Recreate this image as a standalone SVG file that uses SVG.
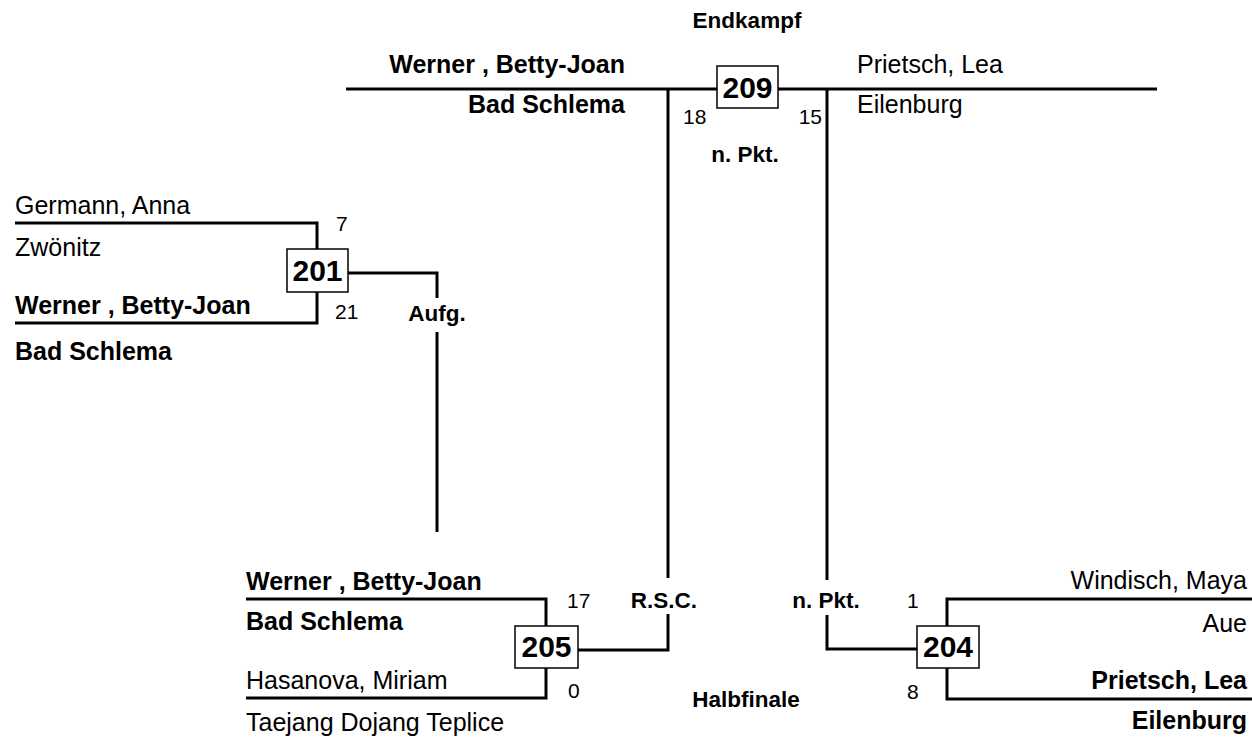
<svg xmlns="http://www.w3.org/2000/svg" width="1252" height="738" viewBox="0 0 1252 738">
<style>
text{font-family:"Liberation Sans",Arial,sans-serif;fill:#000}
.n{font-size:25px}
.b{font-size:25px;font-weight:bold}
.s{font-size:21px}
.l{font-size:22.5px;font-weight:bold}
.num{font-size:30px;font-weight:bold;text-anchor:middle}
.e{text-anchor:end}
.m{text-anchor:middle}
.ln{fill:none;stroke:#000;stroke-width:3}
.box{fill:#fff;stroke:#000;stroke-width:1.5}
</style>
<rect width="1252" height="738" fill="#fff"/>
<g id="connectors">
<path class="ln" d="M346 89H1157"/>
<path class="ln" d="M668 89V578M668 614V650H578"/>
<path class="ln" d="M827 89V580M827 615V649H917"/>
<path class="ln" d="M15 223H317V249M317 292V323H15"/>
<path class="ln" d="M348 273H437V298M437 332V532"/>
<path class="ln" d="M246 599H546V626M546 668V698H246"/>
<path class="ln" d="M1252 599H947V626M947 668V699H1252"/>
</g>
<g id="labels">
<text class="l m" x="747" y="28">Endkampf</text>
<text class="l m" x="745" y="162">n. Pkt.</text>
<text class="l m" x="437" y="321">Aufg.</text>
<text class="l m" x="664" y="608">R.S.C.</text>
<text class="l m" x="826" y="608">n. Pkt.</text>
<text class="l m" x="746" y="707">Halbfinale</text>
</g>
<g id="m209">
<rect class="box" x="717" y="66" width="61" height="42"/>
<text class="num" x="747.5" y="98">209</text>
<text class="b e" x="625" y="73">Werner , Betty-Joan</text>
<text class="b e" x="625" y="113">Bad Schlema</text>
<text class="n" x="857" y="73">Prietsch, Lea</text>
<text class="n" x="857" y="113">Eilenburg</text>
<text class="s" x="683" y="124">18</text>
<text class="s e" x="822" y="124">15</text>
</g>
<g id="m201">
<rect class="box" x="287" y="249" width="61" height="43"/>
<text class="num" x="317.5" y="281">201</text>
<text class="n" x="15" y="214">Germann, Anna</text>
<text class="n" x="15" y="256">Zwönitz</text>
<text class="b" x="15" y="314">Werner , Betty-Joan</text>
<text class="b" x="15" y="360">Bad Schlema</text>
<text class="s" x="336" y="231">7</text>
<text class="s" x="335" y="319">21</text>
</g>
<g id="m205">
<rect class="box" x="515" y="626" width="63" height="42"/>
<text class="num" x="546.5" y="657">205</text>
<text class="b" x="246" y="590">Werner , Betty-Joan</text>
<text class="b" x="246" y="630">Bad Schlema</text>
<text class="n" x="246" y="689">Hasanova, Miriam</text>
<text class="n" x="246" y="731">Taejang Dojang Teplice</text>
<text class="s" x="567" y="608">17</text>
<text class="s" x="568" y="698">0</text>
</g>
<g id="m204">
<rect class="box" x="917" y="626" width="62" height="42"/>
<text class="num" x="948" y="657">204</text>
<text class="n e" x="1247" y="589">Windisch, Maya</text>
<text class="n e" x="1247" y="632">Aue</text>
<text class="b e" x="1247" y="689">Prietsch, Lea</text>
<text class="b e" x="1247" y="729">Eilenburg</text>
<text class="s" x="907" y="608">1</text>
<text class="s" x="907" y="699">8</text>
</g>
</svg>
